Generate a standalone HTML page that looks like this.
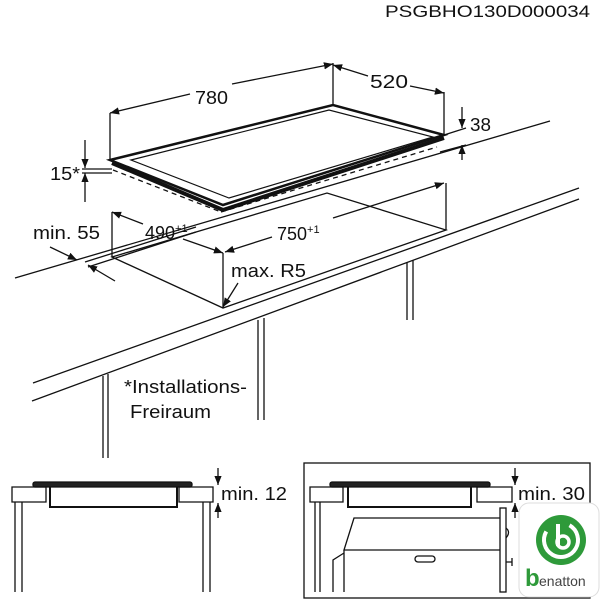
<!DOCTYPE html>
<html><head><meta charset="utf-8"><style>
html,body{margin:0;padding:0;background:#fff}
svg{display:block}
text{font-family:"Liberation Sans",Arial,sans-serif;fill:#111}
</style></head><body>
<svg width="600" height="600" viewBox="0 0 600 600" xmlns="http://www.w3.org/2000/svg">
<defs>
<marker id="a" viewBox="0 0 10 10" refX="10" refY="5" markerWidth="7" markerHeight="7" orient="auto-start-reverse"><path d="M0,1 L10,5 L0,9 z" fill="#111"/></marker>
</defs>
<text x="385" y="17" font-size="17" textLength="205" lengthAdjust="spacingAndGlyphs">PSGBHO130D000034</text>
<g stroke="#111" fill="none" stroke-width="1.3">
<line x1="15" y1="278" x2="550" y2="121"/>
<line x1="33" y1="383" x2="579" y2="188"/>
<line x1="32" y1="401" x2="579" y2="199"/>
<line x1="103" y1="376" x2="103" y2="458"/><line x1="108" y1="374" x2="108" y2="458"/>
<line x1="258" y1="320" x2="258" y2="420"/><line x1="264" y1="318" x2="264" y2="420"/>
<line x1="407" y1="262" x2="407" y2="320"/><line x1="413" y1="260" x2="413" y2="320"/>
<polygon points="112,257 223,308 446,230 327,193" fill="#fff"/>
<line x1="112" y1="257" x2="112" y2="212"/>
<line x1="223" y1="308" x2="223" y2="253"/>
<line x1="446" y1="230" x2="446" y2="183"/>
<line x1="85" y1="262" x2="196" y2="227"/>
<line x1="88" y1="267" x2="196" y2="232"/>
<line x1="112" y1="212" x2="143" y2="224" marker-start="url(#a)"/>
<line x1="183" y1="239" x2="223" y2="253" marker-end="url(#a)"/>
<line x1="225" y1="252" x2="272" y2="237" marker-start="url(#a)"/>
<line x1="333" y1="218" x2="444" y2="183" marker-end="url(#a)"/>
<line x1="238" y1="283" x2="223" y2="307" marker-end="url(#a)"/>
<line x1="50" y1="247" x2="77" y2="260" marker-end="url(#a)"/>
<line x1="115" y1="281" x2="88" y2="265" marker-end="url(#a)"/>
<line x1="113" y1="170" x2="221" y2="212" stroke-dasharray="5,4"/>
<line x1="221" y1="212" x2="437" y2="147" stroke-dasharray="5,4"/>
<polygon points="110,160 333,105 444,135 223,205" fill="#fff" stroke-width="2.5"/>
<polyline points="112,163 223,210 444,138" stroke-width="4"/>
<polygon points="131,160 329,110 433,137 229,198" stroke-width="1.2"/>
<line x1="110" y1="160" x2="110" y2="113"/>
<line x1="333" y1="105" x2="333" y2="63"/>
<line x1="444" y1="135" x2="444" y2="92"/>
<line x1="110" y1="113" x2="190" y2="94" marker-start="url(#a)"/>
<line x1="232" y1="84" x2="333" y2="64" marker-end="url(#a)"/>
<line x1="333" y1="65" x2="368" y2="76" marker-start="url(#a)"/>
<line x1="410" y1="86" x2="444" y2="93" marker-end="url(#a)"/>
<line x1="462" y1="107" x2="462" y2="128" marker-end="url(#a)"/>
<line x1="462" y1="160" x2="462" y2="145" marker-end="url(#a)"/>
<line x1="444" y1="135" x2="466" y2="128"/>
<line x1="440" y1="152" x2="466" y2="145"/>
<line x1="85" y1="140" x2="85" y2="168" marker-end="url(#a)"/>
<line x1="85" y1="202" x2="85" y2="173" marker-end="url(#a)"/>
<line x1="82" y1="169" x2="112" y2="169"/>
<line x1="82" y1="173" x2="112" y2="173"/>
</g>
<g font-size="18" lengthAdjust="spacingAndGlyphs">
<text x="195" y="104" textLength="33" lengthAdjust="spacingAndGlyphs">780</text>
<text x="370" y="88" textLength="38" lengthAdjust="spacingAndGlyphs">520</text>
<text x="470" y="131" textLength="21" lengthAdjust="spacingAndGlyphs">38</text>
<text x="50" y="180" textLength="30" lengthAdjust="spacingAndGlyphs">15*</text>
<text x="33" y="239" textLength="67" lengthAdjust="spacingAndGlyphs">min. 55</text>
<text x="145" y="239">490<tspan font-size="11" dy="-7">+1</tspan></text>
<text x="277" y="240">750<tspan font-size="11" dy="-7">+1</tspan></text>
<text x="231" y="277" textLength="75" lengthAdjust="spacingAndGlyphs">max. R5</text>
<text x="124" y="393" textLength="123" lengthAdjust="spacingAndGlyphs">*Installations-</text>
<text x="130" y="418" textLength="81" lengthAdjust="spacingAndGlyphs">Freiraum</text>
<text x="221" y="500" textLength="66" lengthAdjust="spacingAndGlyphs">min. 12</text>
<text x="518" y="500" textLength="67" lengthAdjust="spacingAndGlyphs">min. 30</text>
</g>
<g stroke="#111" fill="none" stroke-width="1.3">
<rect x="33" y="482" width="159" height="5" rx="2" fill="#222"/>
<path d="M46,487 H12 V502 H46 Z" /><path d="M179,487 H213 V502 H179 Z"/>
<path d="M50,487 V507 H177 V487" stroke-width="2"/>
<line x1="15" y1="502" x2="15" y2="592"/><line x1="22" y1="502" x2="22" y2="592"/>
<line x1="203" y1="502" x2="203" y2="592"/><line x1="210" y1="502" x2="210" y2="592"/>
<line x1="218" y1="468" x2="218" y2="485" marker-end="url(#a)"/>
<line x1="218" y1="518" x2="218" y2="503" marker-end="url(#a)"/>
<rect x="304" y="463" width="286" height="135"/>
<rect x="330" y="482" width="160" height="5" rx="2" fill="#222"/>
<path d="M343,487 H310 V502 H343 Z"/><path d="M477,487 H512 V502 H477 Z"/>
<path d="M348,487 V507 H471 V487" stroke-width="2"/>
<line x1="315" y1="502" x2="315" y2="592"/><line x1="320" y1="502" x2="320" y2="592"/>
<line x1="515" y1="468" x2="515" y2="485" marker-end="url(#a)"/>
<line x1="515" y1="518" x2="515" y2="503" marker-end="url(#a)"/>
<rect x="500" y="508" width="6" height="84"/>
<path d="M500,518 H354 L344,550 H500 M344,550 V592 M344,553 L333,560 V592"/>
<rect x="415" y="556" width="20" height="6" rx="3"/>
<path d="M506,528 q5,4 0,10"/>
<path d="M506,562 h6 M512,558 v8"/>
</g>
<rect x="519" y="503" width="80" height="94" rx="10" fill="#fff" stroke="#ddd"/>
<circle cx="561" cy="540" r="25" fill="#2e9a3a"/>
<circle cx="561" cy="540" r="17" fill="none" stroke="#fff" stroke-width="4" stroke-dasharray="80,27" transform="rotate(-60 561 540)"/>
<path d="M558,524 v22" stroke="#fff" stroke-width="4"/>
<circle cx="563" cy="542" r="6" fill="none" stroke="#fff" stroke-width="3.5"/>
<text x="525" y="586" font-size="24" font-weight="bold" style="fill:#2e9a3a">b</text>
<text x="539" y="586" font-size="14" style="fill:#444">enatton</text>
</svg>
</body></html>
